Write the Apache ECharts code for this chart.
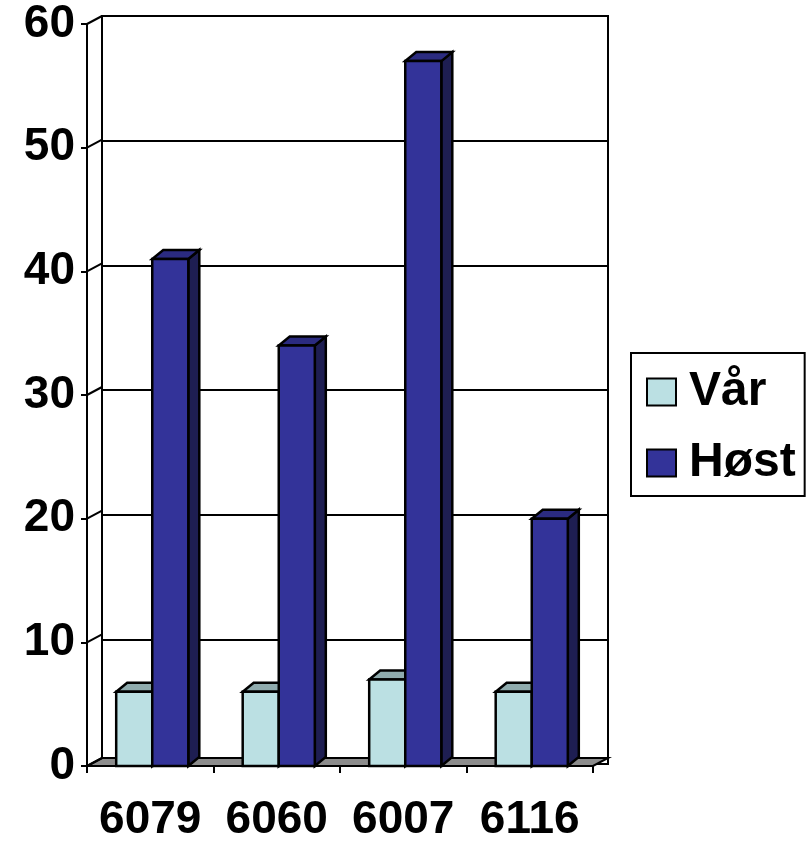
<!DOCTYPE html>
<html>
<head>
<meta charset="utf-8">
<script src="https://cdn.jsdelivr.net/npm/echarts@6/dist/echarts.min.js"></script>
<style>
html,body{margin:0;padding:0;background:#fff;}
#chart{width:811px;height:843px;}
</style>
</head>
<body>
<div id="chart"></div>
<script>
const categories = ['6079', '6060', '6007', '6116'];
const seriesNames = ['Vår', 'Høst'];
const varValues = [6, 6, 7, 6];
const hostValues = [41, 34, 57, 20];
const yTicks = [0, 10, 20, 30, 40, 50, 60];

const FONT = '"Liberation Sans", Arial, sans-serif';
const WALL_DX = 15, WALL_DY = -8;
const BAR_DX = 11, BAR_DY = -9;

const palettes = [
  { front: '#BBE0E3', top: '#8FABAD', side: '#6F8A8C' },
  { front: '#333399', top: '#2B2B80', side: '#1E1E52' }
];

function barRenderer(idx) {
  const pal = palettes[idx];
  return function (params, api) {
    const c = api.value(0), v = api.value(1);
    const base = api.coord([c, 0]);
    const top = api.coord([c, v]);
    const bw = api.size([1, 0])[0];
    const w = bw * 0.285;
    const x0 = base[0] + 2 + (idx === 0 ? -w : 0);
    const x1 = x0 + w;
    const yb = base[1], yt = top[1];
    const st = { stroke: '#000', lineWidth: 2.5, lineJoin: 'miter' };
    return {
      type: 'group',
      children: [
        { type: 'polygon', shape: { points: [[x1, yb], [x1 + BAR_DX, yb + BAR_DY], [x1 + BAR_DX, yt + BAR_DY], [x1, yt]] },
          style: Object.assign({ fill: pal.side }, st) },
        { type: 'polygon', shape: { points: [[x0, yt], [x1, yt], [x1 + BAR_DX, yt + BAR_DY], [x0 + BAR_DX, yt + BAR_DY]] },
          style: Object.assign({ fill: pal.top }, st) },
        { type: 'polygon', shape: { points: [[x0, yb], [x1, yb], [x1, yt], [x0, yt]] },
          style: Object.assign({ fill: pal.front }, st) }
      ]
    };
  };
}

function wallRenderer(params, api) {
  const v = api.value(0);
  const bw = api.size([1, 0])[0];
  const xL = api.coord([0, 0])[0] - bw / 2;
  const xR = api.coord([categories.length - 1, 0])[0] + bw / 2;
  const yv = api.coord([0, v])[1];
  const children = [
    { type: 'line', shape: { x1: xL, y1: yv, x2: xL + WALL_DX, y2: yv + WALL_DY },
      style: { stroke: '#000', lineWidth: 2 } }
  ];
  if (v === 0) {
    children.unshift({ type: 'polygon',
      shape: { points: [[xL, yv], [xR, yv], [xR + WALL_DX, yv + WALL_DY], [xL + WALL_DX, yv + WALL_DY]] },
      style: { fill: '#8C8C8C', stroke: '#000', lineWidth: 2 } });
  }
  return { type: 'group', children: children };
}

const chart = echarts.init(document.getElementById('chart'));
chart.setOption({
  animation: false,
  backgroundColor: '#fff',
  textStyle: { fontFamily: FONT },
  legend: {
    orient: 'vertical',
    left: 631, top: 353,
    padding: [15, 9, 9, 15],
    itemGap: 23,
    itemWidth: 29, itemHeight: 27,
    borderColor: '#000', borderWidth: 2,
    backgroundColor: '#fff',
    icon: 'rect',
    data: seriesNames,
    textStyle: { fontFamily: FONT, fontWeight: 'bold', fontSize: 48, color: '#000', lineHeight: 47, padding: [0, 0, 0, 8] }
  },
  grid: [
    { left: 87, right: 218, top: 24, bottom: 71 },
    { left: 102, right: 203, top: 16, bottom: 79, show: true, backgroundColor: '#fff', borderColor: '#000', borderWidth: 2 }
  ],
  xAxis: [
    { type: 'category', gridIndex: 0, data: categories,
      axisLine: { show: true, lineStyle: { color: '#000', width: 2 } },
      axisTick: { show: true, length: 7, lineStyle: { color: '#000', width: 2 } },
      axisLabel: { color: '#000', fontWeight: 'bold', fontSize: 46, fontFamily: FONT, margin: 31, interval: 0, hideOverlap: false } },
    { type: 'category', gridIndex: 1, data: categories, show: false }
  ],
  yAxis: [
    { type: 'value', gridIndex: 0, min: 0, max: 60, interval: 10,
      axisLine: { show: true, lineStyle: { color: '#000', width: 2 } },
      axisTick: { show: true, length: 6, lineStyle: { color: '#000', width: 2 } },
      axisLabel: { color: '#000', fontWeight: 'bold', fontSize: 46, fontFamily: FONT, margin: 12 },
      splitLine: { show: false } },
    { type: 'value', gridIndex: 1, min: 0, max: 60, interval: 10,
      axisLine: { show: false }, axisTick: { show: false }, axisLabel: { show: false },
      splitLine: { show: true, lineStyle: { color: '#000', width: 2 } } }
  ],
  series: [
    { type: 'custom', name: 'walls', xAxisIndex: 0, yAxisIndex: 0, z: 1, clip: false,
      renderItem: wallRenderer, data: yTicks.map(v => [v]), silent: true },
    { type: 'custom', name: seriesNames[0], xAxisIndex: 0, yAxisIndex: 0, z: 3, clip: false,
      itemStyle: { color: palettes[0].front, borderColor: '#000', borderWidth: 1.5 },
      renderItem: barRenderer(0), data: varValues.map((v, i) => [i, v]) },
    { type: 'custom', name: seriesNames[1], xAxisIndex: 0, yAxisIndex: 0, z: 4, clip: false,
      itemStyle: { color: palettes[1].front, borderColor: '#000', borderWidth: 1.5 },
      renderItem: barRenderer(1), data: hostValues.map((v, i) => [i, v]) }
  ]
});
</script>
</body>
</html>
